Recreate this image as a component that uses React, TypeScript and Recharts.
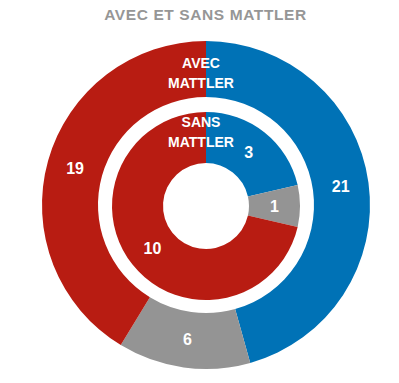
import { PieChart, Pie, Cell } from "recharts";

const categories = ["Oui", "Neutre", "Non"];
const avecValues = [21, 6, 19];
const sansValues = [3, 1, 10];
const colors = ["#0072b6", "#949494", "#b81c12"];

const avecData = categories.map((name, i) => ({ name, value: avecValues[i] }));
const sansData = categories.map((name, i) => ({ name, value: sansValues[i] }));

const FONT = '"Liberation Sans", Arial, Helvetica, sans-serif';
const RAD = Math.PI / 180;

const renderValue = (p: any) => {
  const r = (p.innerRadius + p.outerRadius) / 2;
  const x = p.cx + r * Math.cos(-p.midAngle * RAD);
  const y = p.cy + r * Math.sin(-p.midAngle * RAD);
  return (
    <text
      x={x}
      y={y}
      fill="#fff"
      textAnchor="middle"
      dominantBaseline="central"
      fontSize={16}
      fontWeight="bold"
      fontFamily={FONT}
    >
      {p.value}
    </text>
  );
};

const ringLabel: React.CSSProperties = {
  position: "absolute",
  left: 151,
  width: 100,
  textAlign: "center",
  color: "#fff",
  fontFamily: FONT,
  fontWeight: "bold",
  fontSize: 14,
  lineHeight: "20px",
  pointerEvents: "none",
};

export default function App() {
  return (
    <div style={{ position: "absolute", left: 0, top: 0, width: 399, height: 383, background: "#fff" }}>
      <div
        style={{
          position: "absolute",
          top: 5,
          left: 0,
          width: 411,
          textAlign: "center",
          color: "#969696",
          fontFamily: FONT,
          fontWeight: "bold",
          fontSize: 15.5,
          letterSpacing: 0.6,
          lineHeight: "20px",
        }}
      >
        AVEC ET SANS MATTLER
      </div>
      <PieChart width={399} height={383} margin={{ top: 0, right: 0, bottom: 0, left: 0 }}>
        <Pie
          data={avecData}
          dataKey="value"
          cx={206}
          cy={205}
          innerRadius={108}
          outerRadius={164}
          startAngle={90}
          endAngle={-270}
          stroke="none"
          label={renderValue}
          labelLine={false}
          isAnimationActive={false}
        >
          {avecData.map((d, i) => (
            <Cell key={d.name} fill={colors[i]} />
          ))}
        </Pie>
        <Pie
          data={sansData}
          dataKey="value"
          cx={206}
          cy={206}
          innerRadius={43}
          outerRadius={94}
          startAngle={90}
          endAngle={-270}
          stroke="none"
          label={renderValue}
          labelLine={false}
          isAnimationActive={false}
        >
          {sansData.map((d, i) => (
            <Cell key={d.name} fill={colors[i]} />
          ))}
        </Pie>
      </PieChart>
      <div style={{ ...ringLabel, top: 53 }}>
        AVEC
        <br />
        MATTLER
      </div>
      <div style={{ ...ringLabel, top: 112 }}>
        SANS
        <br />
        MATTLER
      </div>
    </div>
  );
}
